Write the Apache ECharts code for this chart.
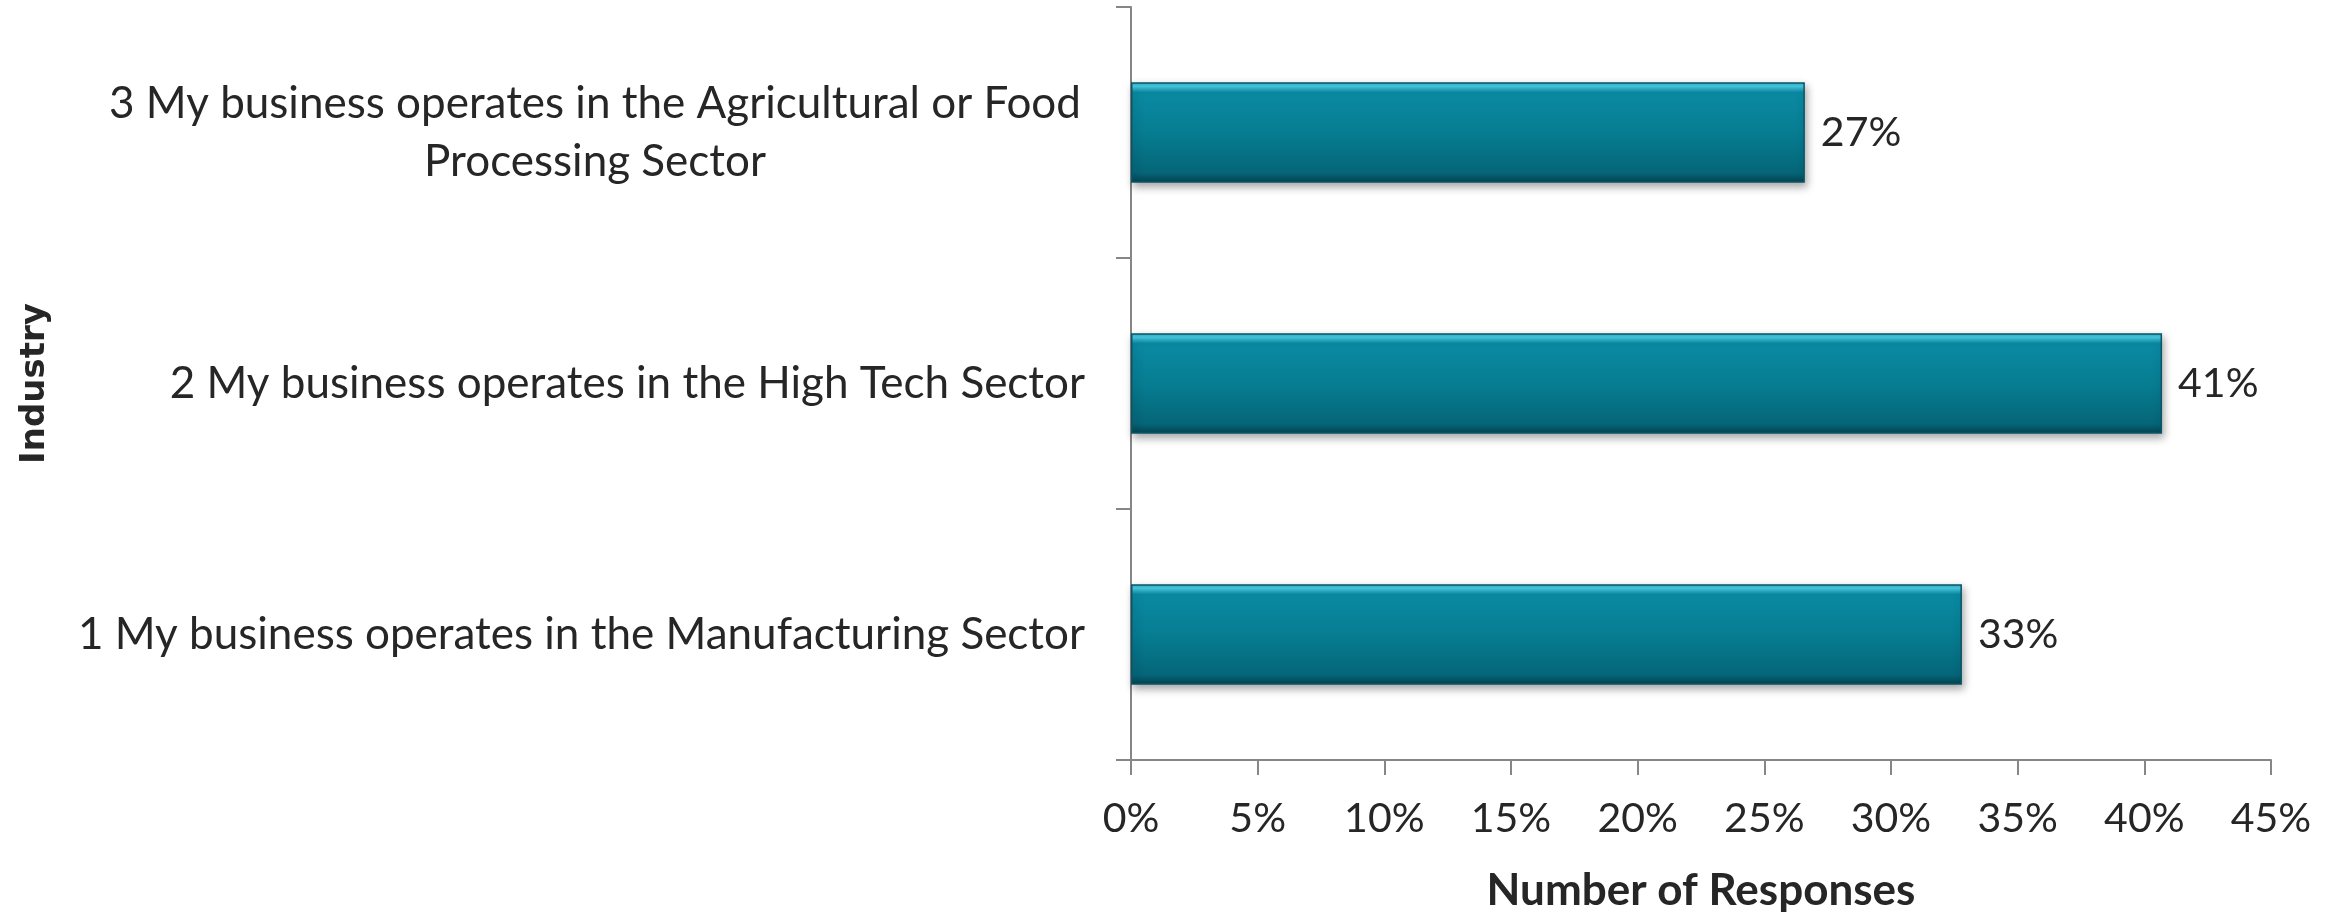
<!DOCTYPE html>
<html>
<head>
<meta charset="utf-8">
<script src="https://cdn.jsdelivr.net/npm/echarts@6/dist/echarts.min.js"></script>
<style>
  html, body { margin: 0; padding: 0; background: #ffffff; }
  #chart { width: 2343px; height: 918px; }
</style>
</head>
<body>
<div id="chart"></div>
<script>
// ---- data ----
const categories = [
  "1 My business operates in the Manufacturing Sector",
  "2 My business operates in the High Tech Sector",
  "3 My business operates in the Agricultural or Food Processing Sector"
];
const values = [32.8, 40.7, 26.6];
const xTicks = [0, 5, 10, 15, 20, 25, 30, 35, 40, 45];
const xAxisTitle = "Number of Responses";
const yAxisTitle = "Industry";

const chart = echarts.init(document.getElementById('chart'));
const textColor = '#262626';
const axisColor = '#868686';

const barGradient = new echarts.graphic.LinearGradient(0, 0, 0, 1, [
  { offset: 0, color: '#2aaec8' },
  { offset: 0.04, color: '#48cde4' },
  { offset: 0.10, color: '#0a8aa3' },
  { offset: 0.5, color: '#077d92' },
  { offset: 0.90, color: '#056678' },
  { offset: 1, color: '#044350' }
]);

const option = {
  backgroundColor: '#ffffff',
  animation: false,
  grid: { left: 1131, right: 72, top: 7, bottom: 154, containLabel: false },
  xAxis: {
    type: 'value',
    min: xTicks[0],
    max: xTicks[xTicks.length - 1],
    interval: 5,
    name: xAxisTitle,
    nameLocation: 'middle',
    nameGap: 109,
    nameTextStyle: { fontFamily: 'Lato', fontWeight: 'bold', fontSize: 44, color: textColor },
    axisLine: { show: true, lineStyle: { color: axisColor, width: 2 } },
    axisTick: { show: true, length: 15, lineStyle: { color: axisColor, width: 2 } },
    splitLine: { show: false },
    axisLabel: {
      margin: 38,
      fontFamily: 'Lato', fontSize: 41, color: textColor,
      formatter: v => v + '%'
    }
  },
  yAxis: {
    type: 'category',
    data: categories,
    boundaryGap: true,
    name: yAxisTitle,
    nameLocation: 'middle',
    nameGap: 1079,
    nameRotate: 90,
    nameTextStyle: { fontFamily: 'DejaVu Sans', fontWeight: 'bold', fontSize: 34, color: textColor },
    axisLine: { show: true, onZero: false, lineStyle: { color: axisColor, width: 2 } },
    axisTick: { show: true, length: 15, alignWithLabel: false, lineStyle: { color: axisColor, width: 2 } },
    splitLine: { show: false },
    axisLabel: {
      margin: 46,
      fontFamily: 'Lato', fontSize: 44, color: textColor,
      formatter: function (v) {
        if (v.indexOf('Agricultural') >= 0) {
          const cut = v.indexOf('Processing');
          return '{c|' + v.slice(0, cut).trim() + '}\n{c|' + v.slice(cut) + '}';
        }
        return v;
      },
      rich: {
        c: { width: 980, align: 'center', fontFamily: 'Lato', fontSize: 44, color: textColor, lineHeight: 58 }
      }
    }
  },
  series: [{
    type: 'bar',
    data: values,
    barCategoryGap: '60%',
    itemStyle: {
      color: barGradient,
      borderColor: '#0a5566',
      borderWidth: 1.5,
      shadowColor: 'rgba(0,0,0,0.35)',
      shadowBlur: 8,
      shadowOffsetX: 2,
      shadowOffsetY: 4
    },
    label: {
      show: true,
      position: 'right',
      distance: 16,
      fontFamily: 'Lato', fontSize: 41, color: textColor,
      formatter: p => Math.round(p.value) + '%'
    }
  }]
};
chart.setOption(option);
</script>
</body>
</html>
